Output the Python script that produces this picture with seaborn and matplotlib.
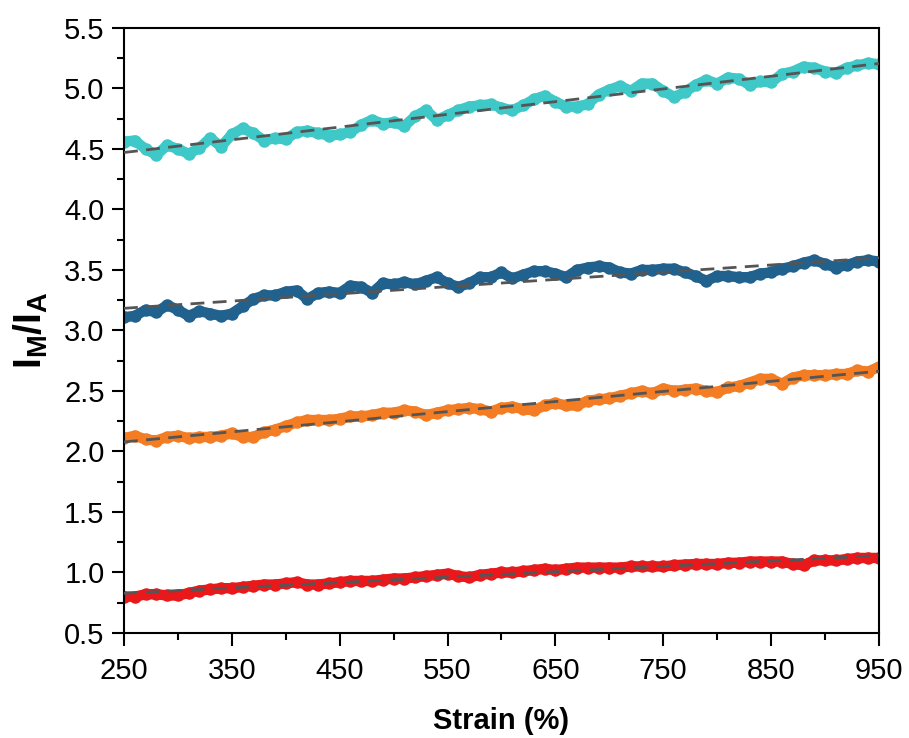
import numpy as np
import pandas as pd
import matplotlib
matplotlib.use("Agg")
import matplotlib.pyplot as plt
from matplotlib.ticker import MultipleLocator
import seaborn as sns

# Strain axis (%) sampled every 10 %
strain = list(range(250, 951, 10))

ratio_cyan = [4.56, 4.57, 4.50, 4.45, 4.53, 4.50, 4.46, 4.51, 4.59, 4.52,
              4.62, 4.67, 4.63, 4.57, 4.59, 4.58, 4.64, 4.65, 4.63, 4.61,
              4.62, 4.64, 4.70, 4.74, 4.71, 4.72, 4.69, 4.77, 4.82, 4.74,
              4.78, 4.82, 4.85, 4.86, 4.87, 4.84, 4.82, 4.86, 4.91, 4.94,
              4.89, 4.85, 4.85, 4.87, 4.95, 4.99, 5.02, 4.98, 5.04, 5.04,
              4.98, 4.93, 4.97, 5.03, 5.07, 5.04, 5.09, 5.08, 5.03, 5.06,
              5.05, 5.12, 5.14, 5.18, 5.17, 5.14, 5.13, 5.17, 5.19, 5.21,
              5.20]

ratio_blue = [3.11, 3.12, 3.17, 3.15, 3.21, 3.17, 3.12, 3.16, 3.14, 3.12,
              3.14, 3.20, 3.26, 3.29, 3.29, 3.32, 3.33, 3.26, 3.31, 3.32,
              3.31, 3.37, 3.36, 3.31, 3.39, 3.38, 3.40, 3.38, 3.41, 3.44,
              3.39, 3.36, 3.39, 3.44, 3.44, 3.48, 3.43, 3.46, 3.49, 3.49,
              3.47, 3.44, 3.50, 3.52, 3.53, 3.52, 3.48, 3.47, 3.50, 3.50,
              3.51, 3.51, 3.48, 3.45, 3.41, 3.45, 3.45, 3.44, 3.44, 3.47,
              3.48, 3.51, 3.53, 3.56, 3.58, 3.55, 3.52, 3.54, 3.57, 3.58,
              3.57]

ratio_orange = [2.11, 2.13, 2.10, 2.09, 2.12, 2.13, 2.11, 2.12, 2.12, 2.13,
                2.15, 2.12, 2.12, 2.16, 2.18, 2.21, 2.24, 2.26, 2.26, 2.26,
                2.27, 2.29, 2.29, 2.30, 2.32, 2.32, 2.34, 2.33, 2.30, 2.32,
                2.34, 2.35, 2.36, 2.35, 2.33, 2.36, 2.37, 2.35, 2.34, 2.38,
                2.40, 2.38, 2.38, 2.42, 2.43, 2.44, 2.46, 2.48, 2.50, 2.48,
                2.52, 2.50, 2.51, 2.52, 2.50, 2.49, 2.53, 2.54, 2.57, 2.60,
                2.60, 2.56, 2.61, 2.63, 2.63, 2.63, 2.64, 2.64, 2.67, 2.66,
                2.70]

ratio_red = [0.80, 0.80, 0.82, 0.82, 0.81, 0.81, 0.83, 0.85, 0.86, 0.87,
             0.87, 0.88, 0.89, 0.90, 0.90, 0.91, 0.92, 0.90, 0.90, 0.91,
             0.92, 0.93, 0.93, 0.93, 0.94, 0.95, 0.95, 0.96, 0.97, 0.98,
             0.99, 0.97, 0.96, 0.98, 0.99, 1.00, 1.00, 1.01, 1.02, 1.03,
             1.02, 1.03, 1.04, 1.04, 1.04, 1.04, 1.04, 1.05, 1.05, 1.05,
             1.05, 1.06, 1.065, 1.07, 1.07, 1.07, 1.08, 1.08, 1.09, 1.09,
             1.09, 1.09, 1.07, 1.06, 1.10, 1.10, 1.10, 1.11, 1.12, 1.12,
             1.12]

series_names = ["cyan", "blue", "orange", "red"]
series_values = [ratio_cyan, ratio_blue, ratio_orange, ratio_red]
series_colors = ["#3ec8c8", "#21618e", "#f47c22", "#e8181b"]

x_ticks = [250, 350, 450, 550, 650, 750, 850, 950]
y_ticks = [0.5, 1.0, 1.5, 2.0, 2.5, 3.0, 3.5, 4.0, 4.5, 5.0, 5.5]

df = pd.concat(
    [pd.DataFrame({"strain": strain, "ratio": vals, "series": name})
     for name, vals in zip(series_names, series_values)],
    ignore_index=True,
)

sns.set_style("ticks")
plt.rcParams["font.family"] = ["Liberation Sans", "DejaVu Sans"]
plt.rcParams["mathtext.fontset"] = "custom"
plt.rcParams["mathtext.rm"] = "Liberation Sans"
plt.rcParams["mathtext.bf"] = "Liberation Sans:bold"
plt.rcParams["mathtext.it"] = "Liberation Sans:italic"
plt.rcParams["text.color"] = "black"
plt.rcParams["axes.labelcolor"] = "black"

fig = plt.figure(figsize=(9.09, 7.38), dpi=100)
ax = fig.add_axes([0.1364, 0.1423, 0.8306, 0.8198])

palette = dict(zip(series_names, series_colors))
sns.lineplot(data=df, x="strain", y="ratio", hue="series", palette=palette,
             hue_order=series_names, linewidth=7.5, marker="o", markersize=9,
             markeredgewidth=0, legend=False, ax=ax, zorder=2)

# Linear fits drawn as dashed guides
for name in series_names:
    sub = df[df["series"] == name]
    sns.regplot(data=sub, x="strain", y="ratio", scatter=False, ci=None,
                truncate=True, ax=ax,
                line_kws=dict(color="#555555", lw=2.0, ls=(0, (5, 3)),
                              zorder=3))

ax.set_xlim(250, 950)
ax.set_ylim(0.5, 5.5)
ax.set_xticks(x_ticks)
ax.set_yticks(y_ticks)
ax.set_xticklabels([str(t) for t in x_ticks])
ax.set_yticklabels([f"{t:.1f}" for t in y_ticks])
ax.xaxis.set_minor_locator(MultipleLocator(50))
ax.yaxis.set_minor_locator(MultipleLocator(0.25))

ax.tick_params(axis="both", which="major", direction="out", length=9,
               width=1.5, labelsize=21, color="black", labelcolor="black",
               top=False, right=False, pad=5)
ax.tick_params(axis="x", which="major", pad=8)
ax.tick_params(axis="both", which="minor", direction="out", length=5,
               width=1.5, color="black", top=False, right=False)
for side in ["top", "right", "bottom", "left"]:
    ax.spines[side].set_visible(True)
    ax.spines[side].set_linewidth(1.5)
    ax.spines[side].set_color("black")

ax.set_xlabel("Strain (%)", fontsize=21, fontweight="bold", labelpad=16,
              color="black")
ax.set_ylabel(r"$\mathbf{I_M/I_A}$", fontsize=28, labelpad=10, color="black")

fig.savefig("out.png", dpi=100)
